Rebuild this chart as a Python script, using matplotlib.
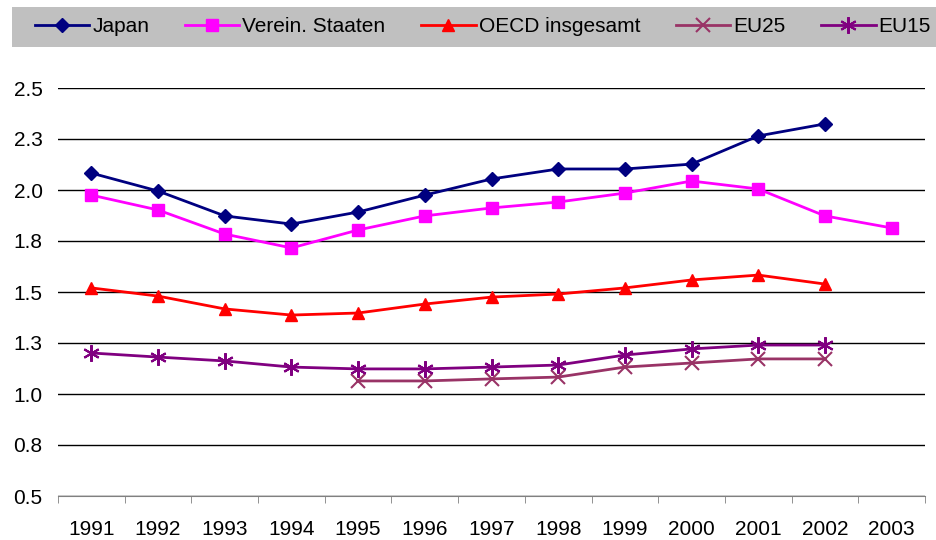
import matplotlib
matplotlib.use("Agg")
import matplotlib.pyplot as plt
from matplotlib.patches import Rectangle
from matplotlib.ticker import FixedLocator, FuncFormatter
import numpy as np

plt.rcParams['font.family'] = ['Liberation Sans', 'DejaVu Sans']

years = ['1991', '1992', '1993', '1994', '1995', '1996', '1997', '1998', '1999', '2000', '2001', '2002', '2003']
japan = [2.083, 1.995, 1.873, 1.833, 1.892, 1.975, 2.054, 2.103, 2.103, 2.127, 2.265, 2.324, None]
usa = [1.975, 1.902, 1.784, 1.716, 1.804, 1.873, 1.912, 1.941, 1.985, 2.044, 2.005, 1.873, 1.814]
oecd = [1.520, 1.480, 1.417, 1.387, 1.397, 1.441, 1.475, 1.490, 1.520, 1.559, 1.583, 1.539, None]
eu25 = [None, None, None, None, 1.064, 1.064, 1.074, 1.083, 1.132, 1.152, 1.172, 1.172, None]
eu15 = [1.201, 1.181, 1.162, 1.132, 1.123, 1.123, 1.132, 1.142, 1.191, 1.221, 1.240, 1.240, None]
yticks = [0.5, 0.75, 1.0, 1.25, 1.5, 1.75, 2.0, 2.25, 2.5]

def arr(v):
    return np.array([np.nan if x is None else x for x in v], dtype=float)

fig = plt.figure(figsize=(9.37, 5.4), dpi=100)
W, H = 937, 540
ax = fig.add_axes([58 / W, (H - 496) / H, (925 - 58) / W, (496 - 88) / H])

x = np.arange(len(years))
series = [
    ('Japan', japan, '#000080', 'D', 7, dict()),
    ('Verein. Staaten', usa, '#FF00FF', 's', 9, dict()),
    ('OECD insgesamt', oecd, '#FF0000', '^', 9, dict()),
    ('EU25', eu25, '#993366', 'x', 10, dict(markeredgewidth=1.5)),
    ('EU15', eu15, '#800080', (6, 2, 0), 12, dict(markeredgewidth=1.5)),
]
handles = []
for name, vals, col, mk, ms, kw in series:
    h, = ax.plot(x, arr(vals), color=col, lw=2, marker=mk, markersize=ms,
                 markerfacecolor=col, markeredgecolor=col, label=name, zorder=3, **kw)
    handles.append(h)

fs = 15
ax.set_xlim(-0.5, len(years) - 0.5)
ax.set_ylim(0.5, 2.5)
ax.yaxis.set_major_locator(FixedLocator(yticks))
ax.yaxis.set_major_formatter(FuncFormatter(lambda v, p: f"{v + 1e-9:.1f}"))
ax.set_xticks(x)
ax.set_xticklabels(years)
ax.xaxis.set_minor_locator(FixedLocator(np.arange(-0.5, len(years), 1.0)))
ax.tick_params(axis='x', which='major', length=0, pad=17, labelsize=fs)
ax.tick_params(axis='x', which='minor', length=5, color='#808080')
ax.tick_params(axis='y', length=0, pad=11, labelsize=fs)
ax.grid(axis='y', color='black', lw=1)
for s in ['top', 'right', 'left']:
    ax.spines[s].set_visible(False)
ax.spines['bottom'].set_color('#808080')
ax.set_axisbelow(True)

fig.patches.append(Rectangle((12 / W, (H - 47) / H), (937 - 12) / W, 40 / H,
                             transform=fig.transFigure, facecolor='#C0C0C0',
                             edgecolor='none', zorder=0))
fig.legend(handles=handles, loc='center left', bbox_to_anchor=(35 / W, (H - 27) / H),
           ncol=5, frameon=False, fontsize=fs, handlelength=2.6, columnspacing=1.72,
           handletextpad=0.15, borderaxespad=0, borderpad=0)

fig.savefig('out.png', dpi=100)
